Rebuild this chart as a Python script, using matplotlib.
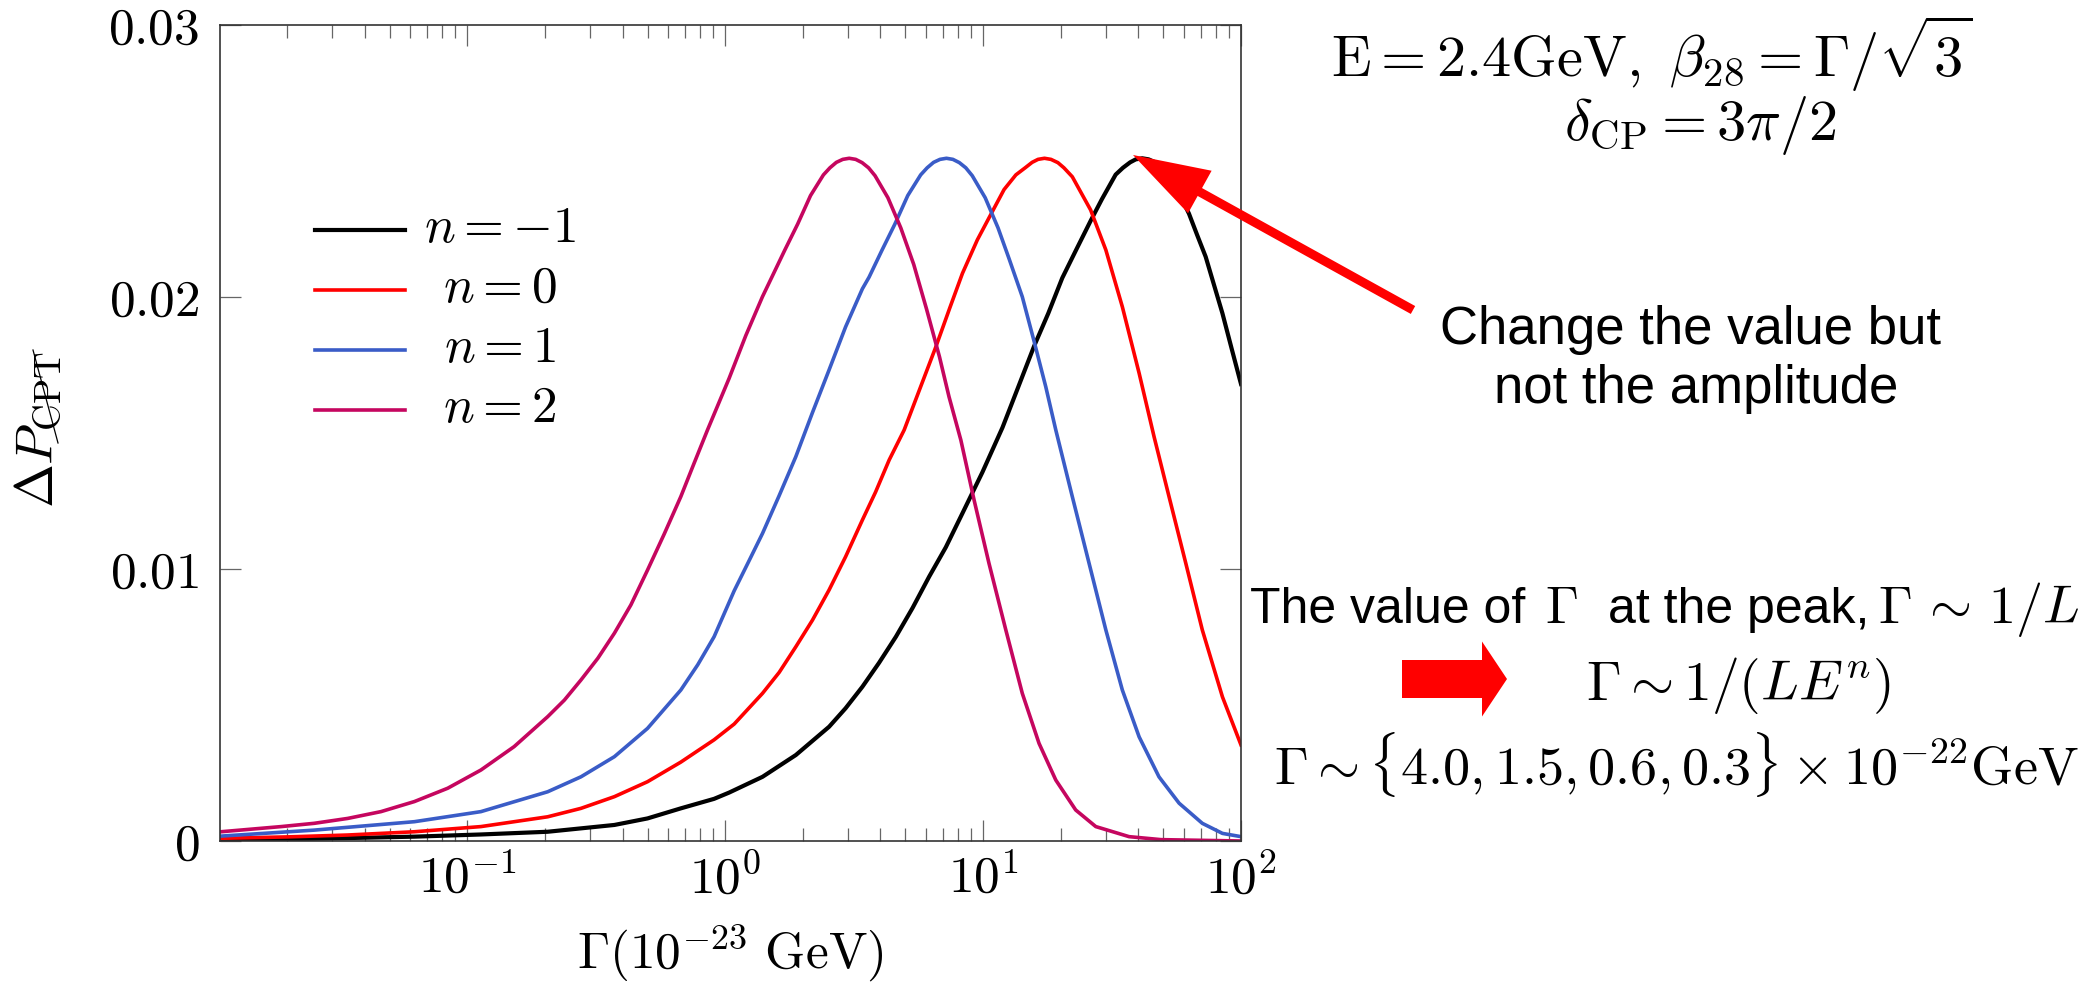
import numpy as np
import matplotlib
matplotlib.use("Agg")
import matplotlib.pyplot as plt
from matplotlib.lines import Line2D
from matplotlib.patches import FancyArrow
from matplotlib.transforms import IdentityTransform
from matplotlib.ticker import NullFormatter

plt.rcParams['mathtext.fontset'] = 'cm'
plt.rcParams['font.family'] = ['Liberation Sans', 'DejaVu Sans']

# Gamma (10^-23 GeV) and Delta P
gamma_nm1 = [0.0111, 0.0250, 0.0624, 0.113, 0.205, 0.372, 0.500, 0.673, 0.906, 1.036,
             1.396, 1.879, 2.529, 2.93, 3.404, 3.95, 4.592, 5.33, 6.180, 7.17,
             8.318, 9.931, 11.89, 13.70, 15.78, 17.9, 20.28, 23.0, 26.12, 28.9,
             32.66, 34.85, 37.15, 39.08, 41.40, 43.86, 46.77, 49.27, 52.60, 57.5,
             62.81, 67.6, 72.95, 78.5, 84.72, 92.0, 100]
dp_nm1 = [0.00005, 0.00008, 0.00016, 0.00024, 0.00034, 0.00059, 0.00083, 0.00120, 0.00155, 0.00178,
          0.00236, 0.00316, 0.00420, 0.00488, 0.00567, 0.00655, 0.00751, 0.00857, 0.00972, 0.01080,
          0.01205, 0.01355, 0.01520, 0.01670, 0.01820, 0.01940, 0.02070, 0.02175, 0.02280, 0.02360,
          0.02450, 0.02475, 0.02495, 0.02506, 0.0251, 0.02506, 0.02494, 0.02475, 0.02450, 0.02380,
          0.02307, 0.02228, 0.02148, 0.02046, 0.01940, 0.01810, 0.01680]

gamma_n0 = [0.0111, 0.0200, 0.0344, 0.0624, 0.113, 0.205, 0.276, 0.372, 0.500, 0.673,
            0.906, 1.084, 1.396, 1.620, 1.879, 2.18, 2.529, 2.93, 3.404, 3.83,
            4.325, 4.943, 5.70, 6.561, 7.43, 8.318, 9.50, 10.86, 12.06, 13.40,
            14.56, 15.49, 16.33, 17.30, 18.33, 19.50, 20.58, 22.18, 26.12, 29.92,
            34.67, 40.27, 46.03, 52.60, 61.09, 70.79, 84.72, 100]
dp_n0 = [0.00010, 0.00015, 0.00022, 0.00034, 0.00053, 0.00089, 0.00120, 0.00163, 0.00218, 0.00290,
         0.00372, 0.00430, 0.00543, 0.00620, 0.00714, 0.00812, 0.00923, 0.01045, 0.01180, 0.01283,
         0.01401, 0.01511, 0.01665, 0.01817, 0.01960, 0.02087, 0.02210, 0.02314, 0.02395, 0.02449,
         0.02475, 0.02495, 0.02506, 0.0251, 0.02506, 0.02494, 0.02475, 0.02442, 0.02320, 0.02173,
         0.01964, 0.01720, 0.01486, 0.01266, 0.01021, 0.00776, 0.00530, 0.00353]

gamma_n1 = [0.0111, 0.0255, 0.0624, 0.113, 0.205, 0.276, 0.372, 0.500, 0.673, 0.783,
            0.906, 1.084, 1.230, 1.396, 1.620, 1.879, 2.18, 2.529, 2.93, 3.404,
            3.614, 4.055, 4.550, 5.105, 5.728, 6.07, 6.427, 6.807, 7.211, 7.639,
            8.091, 8.57, 9.078, 10.19, 11.43, 12.62, 14.19, 15.78, 17.50, 19.14,
            22.18, 25.76, 29.92, 34.67, 40.27, 48.08, 57.54, 70.79, 84.72, 100]
dp_n1 = [0.00018, 0.00040, 0.00071, 0.00108, 0.00181, 0.00236, 0.00310, 0.00414, 0.00555, 0.00648,
         0.00751, 0.00920, 0.01025, 0.01131, 0.01270, 0.01413, 0.01575, 0.01732, 0.01890, 0.02030,
         0.02073, 0.02172, 0.02268, 0.02373, 0.02449, 0.02475, 0.02495, 0.02506, 0.0251, 0.02506,
         0.02494, 0.02475, 0.02446, 0.02365, 0.02254, 0.02140, 0.02001, 0.01836, 0.01670, 0.01511,
         0.01266, 0.01021, 0.00776, 0.00555, 0.00383, 0.00236, 0.00139, 0.00065, 0.00028, 0.00016]

gamma_n2 = [0.0111, 0.0190, 0.0255, 0.0344, 0.0463, 0.0624, 0.0840, 0.113, 0.152, 0.205,
            0.238, 0.276, 0.321, 0.372, 0.431, 0.500, 0.580, 0.673, 0.755, 0.854,
            1.036, 1.202, 1.395, 1.517, 1.702, 1.910, 2.143, 2.404, 2.548, 2.698,
            2.857, 3.027, 3.207, 3.396, 3.597, 3.811, 4.276, 4.797, 5.383, 6.039,
            6.776, 7.379, 8.20, 9.226, 10.54, 12.25, 14.19, 16.48, 19.14, 22.86,
            27.35, 36.81, 48.98, 100]
dp_n2 = [0.00034, 0.00053, 0.00065, 0.00083, 0.00108, 0.00145, 0.00194, 0.00261, 0.00347, 0.00457,
         0.00518, 0.00592, 0.00672, 0.00764, 0.00868, 0.00996, 0.01128, 0.01266, 0.01385, 0.01511,
         0.01701, 0.01858, 0.02001, 0.02073, 0.02172, 0.02268, 0.02373, 0.02449, 0.02475, 0.02495,
         0.02506, 0.0251, 0.02506, 0.02494, 0.02475, 0.02446, 0.02365, 0.02254, 0.02120, 0.01955,
         0.01780, 0.01633, 0.01474, 0.01254, 0.01021, 0.00776, 0.00543, 0.00359, 0.00224, 0.00114,
         0.00053, 0.00016, 0.00005, 0.0]

labels = [r'$n=-1$', r'$n=0$', r'$n=1$', r'$n=2$']
colors = ['black', '#ff0000', '#3a5cc7', '#c5065f']
widths = [3.0, 2.6, 2.6, 2.6]

xticks = [0.1, 1, 10, 100]
xticklabels = [r'$10^{-1}$', r'$10^{0}$', r'$10^{1}$', r'$10^{2}$']
yticks = [0, 0.01, 0.02, 0.03]
yticklabels = [r'$0$', r'$0.01$', r'$0.02$', r'$0.03$']

W, H = 2086, 982


def fpx(x, y):
    # pixel position (from top-left) -> figure fraction
    return x / W, 1 - y / H


fig = plt.figure(figsize=(W / 100, H / 100), dpi=100)
ax = fig.add_axes([220 / W, 1 - 841 / H, (1241 - 220) / W, (841 - 25) / H])

series = [(gamma_nm1, dp_nm1), (gamma_n0, dp_n0), (gamma_n1, dp_n1), (gamma_n2, dp_n2)]
for (g, p), c, lw in zip(series, colors, widths):
    ax.plot(g, p, color=c, lw=lw, solid_joinstyle='round')

ax.set_xscale('log')
ax.set_xlim(0.011, 100)
ax.set_ylim(0, 0.03)
ax.set_xticks(xticks, labels=xticklabels)
ax.xaxis.set_minor_formatter(NullFormatter())
ax.set_yticks(yticks, labels=yticklabels)
ax.tick_params(which='both', direction='in', top=True, right=True, color='#666666', width=0.9)
ax.tick_params(which='major', length=15, labelsize=37)
ax.tick_params(which='minor', length=9.5)
ax.tick_params(axis='x', which='major', pad=10)
ax.tick_params(axis='y', which='major', pad=15)
for s in ax.spines.values():
    s.set_linewidth(1.2)
    s.set_color('#333333')

ax.set_xlabel(r'$\Gamma(10^{-23}\ \mathrm{GeV})$', fontsize=37, va='baseline')
ax.xaxis.set_label_coords(0.5, (841 - 968) / 816)
ax.set_ylabel(r'$\Delta P_{\mathrm{CPT}}$', fontsize=38, va='center', ha='center')
ax.yaxis.set_label_coords((38 - 220) / 1021, (841 - 430) / 816)
# slash through the CPT subscript
fig.add_artist(Line2D([58, 33], [H - 443, H - 350], transform=IdentityTransform(),
                      color='black', lw=0.9))

# legend with centred labels, like the pgfplots one
row_y = [230, 290, 350, 410]
for lab, c, lw, yy in zip(labels, colors, widths, row_y):
    ya = (841 - yy) / 816
    ax.plot([0.093, 0.181], [ya, ya], transform=ax.transAxes, color=c, lw=lw)
    ax.text(0.2742, ya - 12 / 816, lab, transform=ax.transAxes, ha='center',
            va='baseline', fontsize=37)

# annotations on the right
fig.text(*fpx(1652, 77), r'$\mathrm{E}=2.4\mathrm{GeV},\ \beta_{28}=\Gamma/\sqrt{3}$',
         ha='center', va='baseline', fontsize=42)
fig.text(*fpx(1700, 140), r'$\delta_{\mathrm{CP}}=3\pi/2$', ha='center', va='baseline', fontsize=42)
fig.text(*fpx(1690, 344), 'Change the value but', ha='center', va='baseline', fontsize=38)
fig.text(*fpx(1696, 403), 'not the amplitude', ha='center', va='baseline', fontsize=38)

fig.text(*fpx(1250, 623), 'The value of', ha='left', va='baseline', fontsize=36)
fig.text(*fpx(1545, 623), r'$\Gamma$', ha='left', va='baseline', fontsize=38)
fig.text(*fpx(1608, 623), 'at the peak,', ha='left', va='baseline', fontsize=36)
fig.text(*fpx(2080, 623), r'$\Gamma\,\sim\,1/L$', ha='right', va='baseline', fontsize=39)

fig.text(*fpx(1739, 700), r'$\Gamma\sim1/(LE^{n})$', ha='center', va='baseline', fontsize=40)
fig.text(*fpx(1676, 785), r'$\Gamma\sim\{4.0,1.5,0.6,0.3\}\times10^{-22}\mathrm{GeV}$',
         ha='center', va='baseline', fontsize=39)

ax.annotate('', xy=(1133, H - 155), xycoords='figure pixels',
            xytext=(1413, H - 310), textcoords='figure pixels',
            arrowprops=dict(arrowstyle='simple,head_length=55,head_width=35,tail_width=6.5',
                            fc='#ff0000', ec='none', shrinkA=0, shrinkB=0, mutation_scale=1),
            annotation_clip=False)

fig.add_artist(FancyArrow(1402, H - 679, 105, 0, width=38, head_width=75, head_length=25,
                          length_includes_head=True, transform=IdentityTransform(),
                          color='#ff0000', lw=0))

fig.savefig('out.png', dpi=100)
